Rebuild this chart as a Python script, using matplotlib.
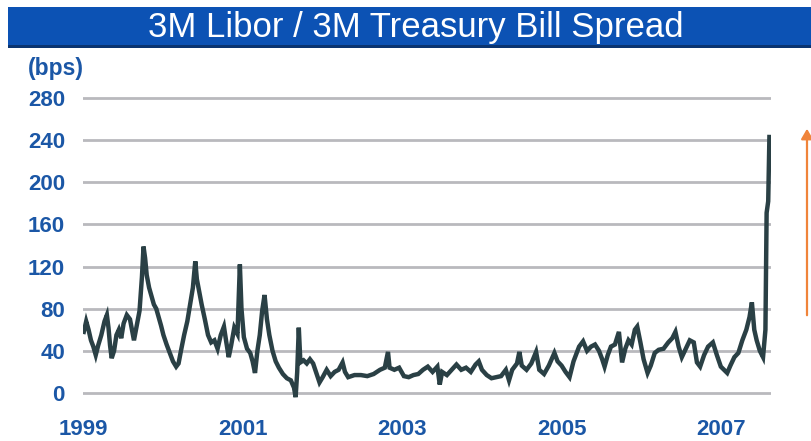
import matplotlib
matplotlib.use("Agg")
import matplotlib.pyplot as plt
from matplotlib.patches import Rectangle, FancyArrowPatch

# Spread series: decimal year vs. basis points
t_years = [
    1999.00, 1999.03, 1999.06, 1999.09, 1999.12, 1999.15, 1999.18, 1999.22, 1999.26, 1999.29,
    1999.31, 1999.33, 1999.35, 1999.38, 1999.41, 1999.44, 1999.47, 1999.50, 1999.54, 1999.58,
    1999.61, 1999.63, 1999.66, 1999.70, 1999.73, 1999.75, 1999.77, 1999.79, 1999.82, 1999.85,
    1999.88, 1999.91, 1999.94, 1999.97, 2000.00, 2000.04, 2000.08, 2000.12, 2000.16, 2000.19,
    2000.22, 2000.26, 2000.30, 2000.34, 2000.37, 2000.40, 2000.42, 2000.45, 2000.48, 2000.52,
    2000.56, 2000.60, 2000.64, 2000.68, 2000.72, 2000.76, 2000.79, 2000.82, 2000.85, 2000.89,
    2000.93, 2000.96, 2000.98, 2001.01, 2001.05, 2001.09, 2001.12, 2001.15, 2001.18, 2001.21,
    2001.24, 2001.27, 2001.30, 2001.33, 2001.37, 2001.41, 2001.45, 2001.50, 2001.55, 2001.60,
    2001.64, 2001.66, 2001.68, 2001.70, 2001.72, 2001.76, 2001.80, 2001.84, 2001.88, 2001.92,
    2001.96, 2002.00, 2002.05, 2002.10, 2002.15, 2002.20, 2002.25, 2002.28, 2002.32, 2002.40,
    2002.48, 2002.56, 2002.64, 2002.72, 2002.78, 2002.82, 2002.84, 2002.90, 2002.96, 2003.02,
    2003.08, 2003.14, 2003.20, 2003.26, 2003.32, 2003.38, 2003.44, 2003.47, 2003.50, 2003.56,
    2003.62, 2003.68, 2003.74, 2003.80, 2003.86, 2003.92, 2003.96, 2004.00, 2004.06, 2004.12,
    2004.18, 2004.24, 2004.30, 2004.34, 2004.38, 2004.44, 2004.47, 2004.50, 2004.56, 2004.62,
    2004.68, 2004.72, 2004.78, 2004.84, 2004.91, 2004.95, 2005.00, 2005.05, 2005.10, 2005.15,
    2005.22, 2005.27, 2005.32, 2005.37, 2005.42, 2005.47, 2005.51, 2005.54, 2005.58, 2005.62,
    2005.67, 2005.72, 2005.76, 2005.80, 2005.84, 2005.88, 2005.92, 2005.95, 2005.99, 2006.03,
    2006.08, 2006.12, 2006.17, 2006.22, 2006.28, 2006.34, 2006.39, 2006.43, 2006.47, 2006.51,
    2006.56, 2006.61, 2006.66, 2006.70, 2006.74, 2006.79, 2006.84, 2006.90, 2006.95, 2007.00,
    2007.04, 2007.08, 2007.12, 2007.17, 2007.22, 2007.27, 2007.32, 2007.36, 2007.39, 2007.42,
    2007.45, 2007.49, 2007.53, 2007.56, 2007.575, 2007.595, 2007.61,
]
spread_bps = [
    58, 68, 60, 50, 44, 36, 45, 55, 68, 74,
    62, 45, 33, 40, 55, 60, 52, 66, 74, 70,
    58, 50, 62, 78, 110, 139, 128, 112, 100, 92,
    84, 80, 72, 64, 55, 46, 38, 30, 25, 28,
    40, 55, 68, 86, 100, 125, 108, 96, 84, 70,
    55, 48, 50, 42, 55, 63, 48, 34, 45, 62,
    56, 122, 80, 53, 42, 38, 30, 19, 40, 55,
    78, 93, 70, 55, 40, 30, 24, 18, 14, 12,
    5, -4, 20, 62, 29, 31, 28, 32, 28, 19,
    10, 15, 22, 16, 20, 22, 29, 20, 15, 17,
    17, 16, 18, 22, 24, 39, 24, 22, 24, 16,
    15, 17, 18, 22, 25, 20, 25, 8, 20, 17,
    22, 27, 22, 24, 20, 27, 30, 22, 17, 14,
    15, 16, 22, 12, 22, 28, 39, 26, 22, 28,
    39, 22, 18, 26, 38, 30, 26, 20, 15, 30,
    44, 49, 40, 44, 46, 40, 32, 25, 36, 44,
    46, 58, 29, 42, 50, 46, 60, 63, 48, 32,
    19, 26, 38, 41, 42, 48, 52, 58, 44, 34,
    42, 50, 48, 29, 25, 36, 44, 48, 36, 25,
    22, 19, 26, 34, 38, 50, 60, 72, 86, 60,
    50, 40, 34, 60, 171, 182, 243,
]

y_ticks = [0, 40, 80, 120, 160, 200, 240, 280]
x_ticks = [1999, 2001, 2003, 2005, 2007]
title = "3M Libor / 3M Treasury Bill Spread"
unit_label = "(bps)"

W, H = 812, 441
BLUE_TXT = "#1b57a6"
LINE_CLR = "#2a4045"
GRID_CLR = "#b9b9bd"

plt.rcParams["font.family"] = ["Liberation Sans", "DejaVu Sans"]

fig = plt.figure(figsize=(W / 100, H / 100), dpi=100)
fig.patch.set_facecolor("white")


def px(x, y):
    """Pixel position (from top-left) to figure fraction."""
    return x / W, 1 - y / H


# Plot area
y_lo, y_hi = -8, 285
x_lo, x_hi = 1998.99, 2007.63
ax_left, ax_right = 83, 771
ax_top = 98 - (y_hi - 280) * 1.05
ax_bot = 393 + (0 - y_lo) * 1.05
ax = fig.add_axes([ax_left / W, 1 - ax_bot / H,
                   (ax_right - ax_left) / W, (ax_bot - ax_top) / H])
ax.set_xlim(x_lo, x_hi)
ax.set_ylim(y_lo, y_hi)

for v in y_ticks:
    ax.axhline(v, color=GRID_CLR, lw=2.0, zorder=1)

ax.plot(t_years, spread_bps, color=LINE_CLR, lw=3.2, solid_joinstyle="miter", zorder=3)

ax.set_yticks(y_ticks)
ax.set_xticks(x_ticks)
ax.set_yticklabels([str(v) for v in y_ticks])
ax.set_xticklabels([str(v) for v in x_ticks])
ax.tick_params(axis="both", length=0, labelsize=16, labelcolor=BLUE_TXT)
ax.tick_params(axis="y", pad=13)
ax.tick_params(axis="x", pad=13)
for lab in ax.get_xticklabels() + ax.get_yticklabels():
    lab.set_fontweight("bold")
for s in ax.spines.values():
    s.set_visible(False)

# Unit label above the y axis
fig.text(*px(28, 68), unit_label, color=BLUE_TXT, fontsize=16.5,
         fontweight="bold", ha="left", va="center")

# Title banner
bx0, by0 = px(8, 48)
bx1, by1 = px(W + 2, 7)
fig.patches.append(Rectangle((bx0, by0), bx1 - bx0, by1 - by0,
                             transform=fig.transFigure, facecolor="#0c52b4",
                             edgecolor="none", zorder=0))
sx0, sy0 = px(8, 48)
sx1, sy1 = px(W + 2, 45.5)
fig.patches.append(Rectangle((sx0, sy0), sx1 - sx0, sy1 - sy0,
                             transform=fig.transFigure, facecolor="#0a3470",
                             edgecolor="none", zorder=0))
fig.text(*px(416, 28), title, color="white", fontsize=25,
         ha="center", va="center")

# Arrow at the right edge
a0 = px(807, 318)
a1 = px(807, 126)
fig.patches.append(FancyArrowPatch(a0, a1, transform=fig.transFigure,
                                   arrowstyle="-|>,head_length=6,head_width=3.5",
                                   color="#f0843a", lw=1.6))

fig.savefig("out.png", dpi=100, facecolor="white")
